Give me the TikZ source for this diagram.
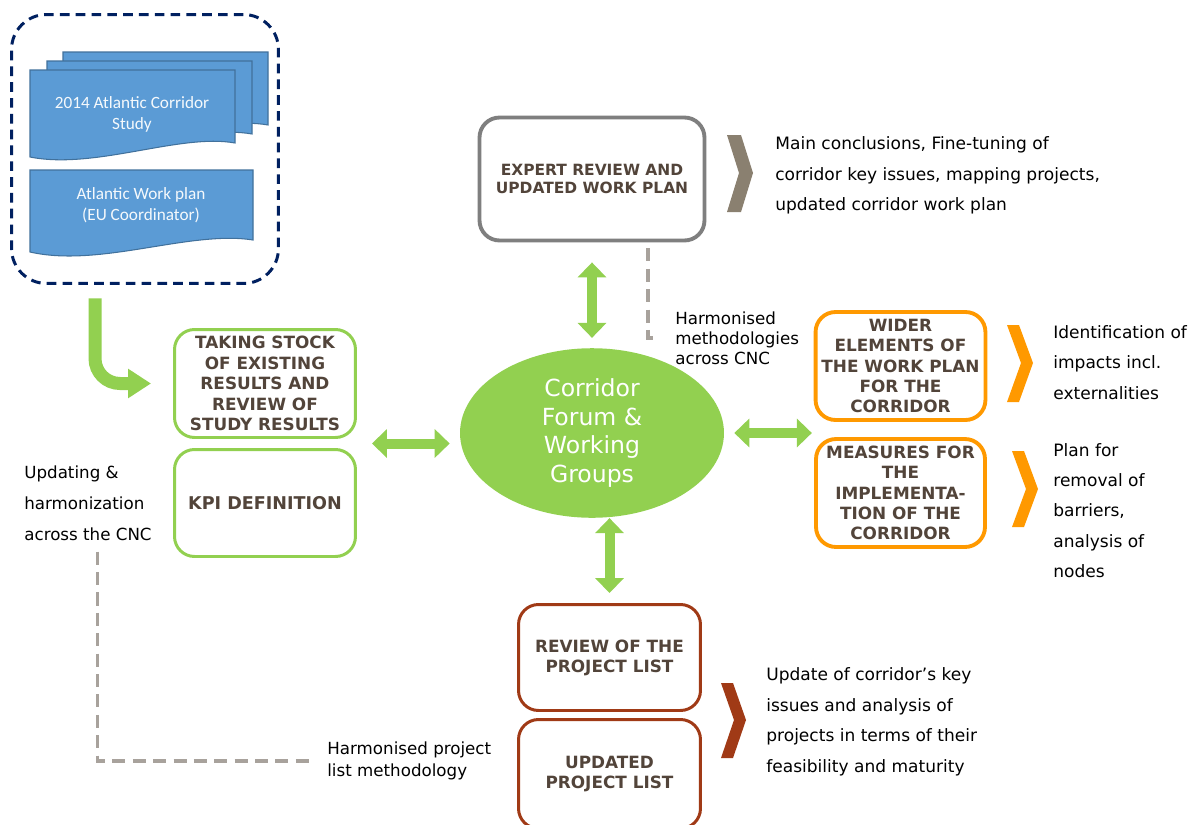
\documentclass[tikz,border=0pt]{standalone}
\usepackage{fontspec}
\setmainfont{DejaVu Sans}
\newfontfamily\docfont{Carlito}
\usetikzlibrary{shapes.geometric, arrows.meta, calc}
\definecolor{corrgreen}{RGB}{146, 208, 80}
\definecolor{corrorange}{RGB}{255, 153, 0}
\definecolor{corrgray}{RGB}{127, 127, 127}
\definecolor{chevgray}{RGB}{138, 128, 112}
\definecolor{corrbrown}{RGB}{160, 58, 22}
\definecolor{boxtext}{RGB}{82, 68, 58}
\definecolor{docblue}{RGB}{91, 155, 213}
\definecolor{docedge}{RGB}{65, 113, 156}
\definecolor{navy1}{RGB}{0, 32, 96}
\definecolor{dashgray}{RGB}{168, 162, 156}

\begin{document}
\begin{tikzpicture}[x=0.02cm, y=-0.02cm,
  stepbox/.style={draw, rounded corners=0.4cm, line width=1.7pt, fill=white, text=boxtext, align=center, font=\bfseries\fontsize{9.6}{11.6}\selectfont},
  desc/.style={anchor=west, inner sep=0pt, align=left, font=\fontsize{9.7}{17.2}\selectfont},
  blockarrow/.style={corrgreen, line width=0.2cm, {Triangle[length=0.3cm, width=0.56cm]}-{Triangle[length=0.3cm, width=0.56cm]}},
  dashline/.style={dashgray, line width=2.1pt, dash pattern=on 7.4pt off 4.2pt},
  doc/.style={fill=docblue, draw=docedge, line width=0.6pt},
  doctext/.style={font=\docfont\fontsize{9.8}{12}\selectfont, text=white!94!docblue, align=center}]
  \useasboundingbox[fill=white] (0,0) rectangle (1197,825);

  % Source documents
  \node[draw=navy1, dash pattern=on 5.5pt off 3.5pt, line width=1.7pt, rounded corners=0.7cm, minimum width=5.34cm, minimum height=5.38cm] (frame) at (145,149) {};
  \filldraw[doc, shift={(33,-18)}] (30,70) -- (235,70) -- (235,143) .. controls (180,133) and (95,170) .. (30,157) -- cycle;
  \filldraw[doc, shift={(17,-9)}] (30,70) -- (235,70) -- (235,143) .. controls (180,133) and (95,170) .. (30,157) -- cycle;
  \filldraw[doc] (30,70) -- (235,70) -- (235,143) .. controls (180,133) and (95,170) .. (30,157) -- cycle;
  \filldraw[doc] (30,170) -- (253,170) -- (253,240) .. controls (190,230) and (100,268) .. (30,252) -- cycle;
  \node[doctext] (study) at (132,114) {2014 Atlantic Corridor\\Study};
  \node[doctext] (workplan) at (141,205) {Atlantic Work plan\\(EU Coordinator)};

  % Left boxes
  \node[stepbox, draw=corrgreen, minimum width=3.62cm, minimum height=2.16cm] (stock) at (265,383.5) {TAKING STOCK\\OF EXISTING\\RESULTS AND\\REVIEW OF\\STUDY RESULTS};
  \node[stepbox, draw=corrgreen, minimum width=3.62cm, minimum height=2.14cm, font=\bfseries\fontsize{10}{12}\selectfont] (kpi) at (265,503) {KPI DEFINITION};
  \node[desc, font=\fontsize{9.5}{17.6}\selectfont] (updating) at (24,503) {Updating \&\\harmonization\\across the CNC};

  % Forum
  \node[ellipse, fill=corrgreen, minimum width=5.28cm, minimum height=3.32cm, text=white, align=center, font=\fontsize{13.4}{16.2}\selectfont] (forum) at (592,433) {Corridor\\Forum \&\\Working\\Groups};

  % Expert review
  \node[stepbox, draw=corrgray, line width=2.2pt, minimum width=4.5cm, minimum height=2.46cm, font=\bfseries\fontsize{8.8}{10.2}\selectfont] (expert) at (592,179) {EXPERT REVIEW AND\\UPDATED WORK PLAN};
  \fill[chevgray] (727,135) -- (741,135) -- (753,173) -- (741,212) -- (727,212) -- (739,173) -- cycle;
  \node[desc] (conclusions) at (775,175.5) {Main conclusions, Fine-tuning of\\corridor key issues, mapping projects,\\updated corridor work plan};
  \node[desc, font=\fontsize{9.5}{11.3}\selectfont] (harmmeth) at (675,338) {Harmonised\\methodologies\\across CNC};

  % Right boxes
  \node[stepbox, draw=corrorange, line width=2.2pt, minimum width=3.38cm, minimum height=2.16cm] (wider) at (900.5,366) {WIDER\\ELEMENTS OF\\THE WORK PLAN\\FOR THE\\CORRIDOR};
  \node[stepbox, draw=corrorange, line width=2.2pt, minimum width=3.38cm, minimum height=2.16cm] (measures) at (900.5,493) {MEASURES FOR\\THE\\IMPLEMENTA-\\TION OF THE\\CORRIDOR};
  \fill[corrorange] (1007,325) -- (1019,325) -- (1033,363) -- (1019,402) -- (1007,402) -- (1021,363) -- cycle;
  \fill[corrorange] (1012,451) -- (1024,451) -- (1038,489) -- (1024,527) -- (1012,527) -- (1026,489) -- cycle;
  \node[desc] (impacts) at (1053,362.5) {Identification of\\impacts incl.\\externalities};
  \node[desc] (barriers) at (1053,510.5) {Plan for\\removal of\\barriers,\\analysis of\\nodes};

  % Project list
  \node[stepbox, draw=corrbrown, minimum width=3.64cm, minimum height=2.12cm, font=\bfseries\fontsize{9.6}{11.3}\selectfont] (review) at (609.5,657.5) {REVIEW OF THE\\PROJECT LIST};
  \node[stepbox, draw=corrbrown, minimum width=3.64cm, minimum height=2.18cm, font=\bfseries\fontsize{9.6}{11.3}\selectfont] (updated) at (609.5,774) {UPDATED\\PROJECT LIST};
  \fill[corrbrown] (721,683) -- (733,683) -- (746,720) -- (733,758) -- (721,758) -- (734,720) -- cycle;
  \node[desc, font=\fontsize{9.7}{17.4}\selectfont] (maturity) at (766,722) {Update of corridor's key\\issues and analysis of\\projects in terms of their\\feasibility and maturity};
  \node[desc, font=\fontsize{9.5}{12.5}\selectfont] (harmproj) at (327,761) {Harmonised project\\list methodology};

  % Connectors
  \coordinate (leftgap) at ($(stock.south east)!0.5!(kpi.north east)$);
  \coordinate (rightgap) at ($(wider.south west)!0.5!(measures.north west)$);
  \draw[corrgreen, line width=0.26cm, rounded corners=0.5cm, -{Triangle[length=0.46cm, width=0.56cm]}, shorten <=0.27cm, shorten >=0.44cm] ([xshift=-1cm]frame.south) |- (stock.west);
  \draw[blockarrow, shorten <=0.3cm, shorten >=0.2cm] (leftgap) -- (leftgap -| forum.west);
  \draw[blockarrow, shorten <=0.4cm, shorten >=0.2cm] (expert.south) -- (forum.north);
  \draw[blockarrow, shorten >=0.2cm] (forum.south -| review.north) -- (review.north);
  \draw[blockarrow, shorten <=0.2cm, shorten >=0.04cm] (forum.east) -- (forum.east -| rightgap);
  \draw[dashline, shorten <=0.12cm] ([xshift=1.12cm]expert.south) |- ([xshift=-0.3cm]harmmeth.west);
  \draw[dashline, shorten <=0.22cm] ([xshift=0.19cm]updating.south) |- ([xshift=-0.22cm]harmproj.west);
\end{tikzpicture}
\end{document}
